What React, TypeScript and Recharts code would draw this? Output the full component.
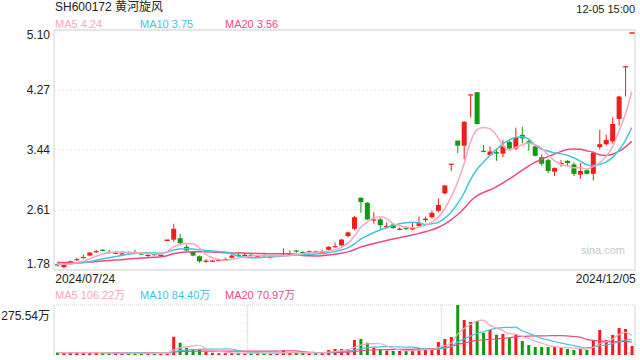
import { ComposedChart, Bar, Line, XAxis, YAxis, CartesianGrid, Cell } from "recharts"

const RED = "#f21c1c"
const GREEN = "#0e9c0e"
const MA5_COLOR = "#f9a6c1"
const MA10_COLOR = "#44c3e0"
const MA20_COLOR = "#ec4b7f"

// trading days, 2024
const days = [
  "07/24", "07/25", "07/26", "07/29", "07/30", "07/31",
  "08/01", "08/02", "08/05", "08/06", "08/07", "08/08", "08/09", "08/12", "08/13", "08/14", "08/15", "08/16",
  "08/19", "08/20", "08/21", "08/22", "08/23", "08/26", "08/27", "08/28", "08/29", "08/30",
  "09/02", "09/03", "09/04", "09/05", "09/06", "09/09", "09/10", "09/11", "09/12", "09/13",
  "09/18", "09/19", "09/20", "09/23", "09/24", "09/25", "09/26", "09/27", "09/30",
  "10/08", "10/09", "10/10", "10/11", "10/14", "10/15", "10/16", "10/17", "10/18",
  "10/21", "10/22", "10/23", "10/24", "10/25", "10/28", "10/29", "10/30", "10/31",
  "11/01", "11/04", "11/05", "11/06", "11/07", "11/08", "11/11", "11/12", "11/13", "11/14", "11/15",
  "11/18", "11/19", "11/20", "11/21", "11/22", "11/25", "11/26", "11/27", "11/28", "11/29",
  "12/02", "12/03", "12/04", "12/05",
]

const opens = [
  1.86, 1.82, 1.88, 1.92, 1.95, 1.98, 2.03, 2.06, 2.03, 2.01,
  2.00, 2.03, 2.03, 2.01, 1.98, 2.00, 1.98, 2.19, 2.20, 2.22,
  2.10, 2.03, 1.97, 1.90, 1.90, 1.91, 1.92, 1.95, 1.99, 1.98,
  1.99, 1.97, 1.99, 1.96, 1.97, 1.98, 1.99, 2.05, 2.03, 2.02,
  2.04, 2.02, 2.06, 2.10, 2.12, 2.25, 2.35, 2.78, 2.71, 2.47,
  2.48, 2.38, 2.41, 2.34, 2.36, 2.34, 2.39, 2.47, 2.51, 2.60,
  2.84, 3.24, 3.57, 3.50, 4.20, 4.24, 3.43, 3.37, 3.41, 3.39,
  3.55, 3.46, 3.65, 3.56, 3.49, 3.34, 3.30, 3.14, 3.24, 3.29,
  3.24, 3.10, 3.16, 3.11, 3.48, 3.52, 3.56, 3.87, 4.59, 5.06,
]
const highs = [
  1.87, 1.87, 1.91, 1.95, 1.99, 2.03, 2.06, 2.07, 2.06, 2.04,
  2.04, 2.04, 2.06, 2.02, 2.00, 2.01, 2.01, 2.19, 2.42, 2.28,
  2.13, 2.04, 1.98, 1.93, 1.92, 1.93, 1.95, 2.00, 2.03, 2.02,
  2.00, 1.99, 2.00, 1.98, 1.99, 2.08, 2.05, 2.06, 2.04, 2.05,
  2.05, 2.06, 2.11, 2.16, 2.21, 2.31, 2.53, 2.78, 2.72, 2.58,
  2.50, 2.44, 2.42, 2.37, 2.39, 2.43, 2.52, 2.52, 2.60, 2.77,
  2.95, 3.25, 3.57, 3.84, 4.21, 4.24, 3.51, 3.49, 3.46, 3.58,
  3.58, 3.75, 3.76, 3.58, 3.51, 3.38, 3.32, 3.20, 3.30, 3.30,
  3.27, 3.26, 3.18, 3.42, 3.72, 3.65, 3.89, 4.19, 4.60, 5.06,
]
const lows = [
  1.83, 1.80, 1.87, 1.91, 1.94, 1.97, 2.02, 2.04, 2.01, 2.00,
  1.99, 2.01, 2.01, 1.99, 1.96, 1.98, 1.97, 2.19, 2.17, 2.12,
  2.04, 1.97, 1.88, 1.88, 1.89, 1.90, 1.91, 1.94, 1.97, 1.97,
  1.97, 1.96, 1.96, 1.94, 1.96, 1.97, 1.98, 2.02, 1.99, 2.01,
  2.02, 2.01, 2.05, 2.09, 2.11, 2.23, 2.33, 2.57, 2.47, 2.42,
  2.35, 2.35, 2.35, 2.33, 2.34, 2.33, 2.38, 2.44, 2.49, 2.58,
  2.83, 3.15, 3.40, 3.31, 3.89, 3.79, 3.41, 3.36, 3.29, 3.34,
  3.45, 3.44, 3.53, 3.43, 3.35, 3.22, 3.12, 3.08, 3.21, 3.21,
  3.08, 3.04, 3.10, 3.02, 3.45, 3.50, 3.53, 3.78, 4.18, 5.06,
]
const closes = [
  1.85, 1.86, 1.90, 1.93, 1.96, 2.02, 2.04, 2.05, 2.02, 2.02,
  2.01, 2.02, 2.02, 2.00, 1.99, 1.99, 1.99, 2.19, 2.35, 2.15,
  2.05, 1.98, 1.90, 1.91, 1.91, 1.92, 1.93, 1.98, 1.98, 1.99,
  1.98, 1.98, 1.97, 1.97, 1.98, 1.99, 2.00, 2.04, 2.02, 2.04,
  2.03, 2.03, 2.10, 2.11, 2.20, 2.30, 2.51, 2.72, 2.48, 2.48,
  2.40, 2.39, 2.36, 2.35, 2.35, 2.37, 2.43, 2.49, 2.57, 2.68,
  2.95, 3.25, 3.50, 3.83, 4.21, 3.80, 3.42, 3.42, 3.39, 3.49,
  3.46, 3.61, 3.60, 3.53, 3.36, 3.25, 3.15, 3.19, 3.26, 3.26,
  3.11, 3.15, 3.11, 3.40, 3.52, 3.58, 3.80, 4.18, 4.60, 5.06,
]
// volume, 万手
const volumes = [
  14, 11, 12, 13, 15, 14, 12, 10, 9, 10,
  11, 9, 10, 8, 9, 8, 9, 12, 101, 68,
  40, 31, 29, 18, 12, 10, 10, 11, 12, 10,
  9, 10, 9, 9, 10, 28, 14, 12, 11, 10,
  12, 15, 27, 33, 33, 33, 83, 88, 68, 40,
  31, 24, 22, 22, 22, 31, 38, 31, 31, 72,
  88, 99, 275.54, 193, 182, 187, 123, 138, 112, 116,
  96, 112, 77, 55, 44, 44, 44, 44, 38, 33,
  28, 35, 28, 81, 138, 83, 110, 149, 143, 50,
]
// sessions before 07/24, only feed the moving averages
const preCloses = [1.93, 1.92, 1.94, 1.91, 1.90, 1.92, 1.89, 1.90, 1.88, 1.89, 1.87, 1.88, 1.86, 1.87, 1.88, 1.86, 1.87, 1.85, 1.86]
const preVolumes = [15, 13, 16, 14, 12, 15, 13, 14, 12, 16, 13, 12, 14, 15, 13, 12, 14, 13, 12]

const priceTicks = [1.78, 2.61, 3.44, 4.27, 5.1]
const volTicks = [0, 275.54]

const movingAvg = (pre: number[], vals: number[], n: number) => {
  const all = [...pre, ...vals]
  return vals.map((_, i) => {
    const end = i + pre.length
    let sum = 0
    for (let k = end - n + 1; k <= end; k++) sum += all[k]
    return sum / n
  })
}

const ma5 = movingAvg(preCloses, closes, 5)
const ma10 = movingAvg(preCloses, closes, 10)
const ma20 = movingAvg(preCloses, closes, 20)
const vma5 = movingAvg(preVolumes, volumes, 5)
const vma10 = movingAvg(preVolumes, volumes, 10)
const vma20 = movingAvg(preVolumes, volumes, 20)

const rows = days.map((d, i) => ({
  date: "2024/" + d,
  open: opens[i],
  high: highs[i],
  low: lows[i],
  close: closes[i],
  range: [lows[i], highs[i]],
  up: closes[i] >= opens[i],
  vol: volumes[i],
  ma5: ma5[i],
  ma10: ma10[i],
  ma20: ma20[i],
  vma5: vma5[i],
  vma10: vma10[i],
  vma20: vma20[i],
}))

const FONT = "Arial, 'Liberation Sans', 'Noto Sans CJK SC', sans-serif"

const Candle = (props: any) => {
  const { x, y, width, height, payload } = props
  const color = payload.up ? RED : GREEN
  const top = Math.min(y, y + height)
  const h = Math.abs(height)
  const cx = x + width / 2
  const span = payload.high - payload.low
  if (span <= 0 || h === 0) {
    return <line x1={x} x2={x + width} y1={top} y2={top} stroke={color} strokeWidth={1.5} />
  }
  const ppu = h / span
  const yo = top + (payload.high - payload.open) * ppu
  const yc = top + (payload.high - payload.close) * ppu
  const bTop = Math.min(yo, yc)
  const bH = Math.max(Math.abs(yc - yo), 1.2)
  return (
    <g>
      <line x1={cx} x2={cx} y1={top} y2={top + h} stroke={color} strokeWidth={1} />
      <rect x={x} y={bTop} width={width} height={bH} fill={color} />
    </g>
  )
}

const PriceTick = (props: any) => {
  const { x, y, payload } = props
  const v = payload.value
  let dy = 0
  if (v === priceTicks[priceTicks.length - 1]) dy = 5
  if (v === priceTicks[0]) dy = -6
  return (
    <text x={x} y={y + dy} textAnchor="end" dominantBaseline="central" fontSize={12} fill="#222" fontFamily={FONT}>
      {v.toFixed(2)}
    </text>
  )
}

const VolTick = (props: any) => {
  const { x, y, payload } = props
  const v = payload.value
  const dy = v === 0 ? -7 : 7
  return (
    <text x={x} y={y + dy} textAnchor="end" dominantBaseline="central" fontSize={12} fill="#222" fontFamily={FONT}>
      {v === 0 ? "0" : v.toFixed(2) + "万"}
    </text>
  )
}

const DateTick = (props: any) => {
  const { x, y, payload, index } = props
  const first = index === 0
  return (
    <text
      x={x + (first ? -2 : 4)}
      y={y + 7}
      textAnchor={first ? "start" : "end"}
      dominantBaseline="central"
      fontSize={12}
      fill="#222"
      fontFamily={FONT}
    >
      {payload.value}
    </text>
  )
}

const borderV = ({ offset }: any) => [offset.left, offset.left + offset.width]
const borderH = ({ offset }: any) => [offset.top, offset.top + offset.height]
const thirdsV = ({ offset }: any) => [offset.left + offset.width / 3, offset.left + (offset.width * 2) / 3]

const label = (text: string, color: string, left: number, top: number) => (
  <span style={{ position: "absolute", left, top, fontSize: 11, lineHeight: "12px", color, whiteSpace: "nowrap" }}>{text}</span>
)

export default function App() {
  return (
    <div style={{ position: "relative", width: 640, height: 360, background: "#fff", fontFamily: FONT, overflow: "hidden" }}>
      <style>{`body{margin:0}`}</style>
      <span style={{ position: "absolute", left: 55, top: 0, fontSize: 12, lineHeight: "14px", color: "#222" }}>
        SH600172 黄河旋风
      </span>
      <span style={{ position: "absolute", right: 5, top: 3, fontSize: 11, lineHeight: "12px", color: "#222" }}>12-05 15:00</span>
      {label("MA5 4.24", MA5_COLOR, 55, 18)}
      {label("MA10 3.75", MA10_COLOR, 140, 18)}
      {label("MA20 3.56", MA20_COLOR, 225, 18)}

      <div style={{ position: "absolute", left: 0, top: 0 }}>
        <ComposedChart width={640} height={292} data={rows} margin={{ top: 30, right: 5, bottom: 0, left: 4 }}>
          <CartesianGrid vertical={false} stroke="#e2e2e2" strokeDasharray="2 2" />
          <CartesianGrid horizontalCoordinatesGenerator={borderH} verticalCoordinatesGenerator={borderV} stroke="#d4d4d4" />
          <XAxis
            dataKey="date"
            height={22}
            ticks={[rows[0].date, rows[rows.length - 1].date]}
            interval={0}
            tickLine={false}
            axisLine={false}
            tickSize={0}
            tick={<DateTick />}
          />
          <YAxis
            width={50}
            domain={[priceTicks[0], priceTicks[priceTicks.length - 1]]}
            ticks={priceTicks}
            allowDataOverflow
            tickLine={false}
            axisLine={false}
            tickSize={0}
            tickMargin={4}
            tick={<PriceTick />}
          />
          <Line type="monotone" dataKey="ma20" stroke={MA20_COLOR} strokeWidth={1.5} dot={false} isAnimationActive={false} />
          <Line type="monotone" dataKey="ma10" stroke={MA10_COLOR} strokeWidth={1.5} dot={false} isAnimationActive={false} />
          <Line type="monotone" dataKey="ma5" stroke={MA5_COLOR} strokeWidth={1.5} dot={false} isAnimationActive={false} />
          <Bar dataKey="range" barSize={5} shape={<Candle />} isAnimationActive={false} />
        </ComposedChart>
      </div>
      <span style={{ position: "absolute", left: 581, top: 244, fontSize: 11, color: "#c8c8c8" }}>sina.com</span>

      {label("MA5 106.22万", MA5_COLOR, 55, 289)}
      {label("MA10 84.40万", MA10_COLOR, 140, 289)}
      {label("MA20 70.97万", MA20_COLOR, 225, 289)}

      <div style={{ position: "absolute", left: 0, top: 300 }}>
        <ComposedChart width={640} height={60} data={rows} margin={{ top: 5, right: 5, bottom: 5, left: 4 }}>
          <CartesianGrid horizontal={false} verticalCoordinatesGenerator={borderV} stroke="#d4d4d4" />
          <CartesianGrid vertical={false} stroke="#cfcfcf" strokeDasharray="1 1" />
          <CartesianGrid horizontal={false} verticalCoordinatesGenerator={thirdsV} stroke="#cfcfcf" strokeDasharray="1 1" />
          <XAxis dataKey="date" hide />
          <YAxis
            width={50}
            domain={[volTicks[0], volTicks[1]]}
            ticks={volTicks}
            allowDataOverflow
            tickLine={false}
            axisLine={false}
            tickSize={0}
            tickMargin={4}
            tick={<VolTick />}
          />
          <Bar dataKey="vol" barSize={3} isAnimationActive={false}>
            {rows.map((r, i) => (
              <Cell key={i} fill={r.up ? RED : GREEN} />
            ))}
          </Bar>
          <Line type="monotone" dataKey="vma20" stroke={MA20_COLOR} strokeWidth={1.2} dot={false} isAnimationActive={false} />
          <Line type="monotone" dataKey="vma10" stroke={MA10_COLOR} strokeWidth={1.2} dot={false} isAnimationActive={false} />
          <Line type="monotone" dataKey="vma5" stroke={MA5_COLOR} strokeWidth={1.2} dot={false} isAnimationActive={false} />
        </ComposedChart>
      </div>
    </div>
  )
}
